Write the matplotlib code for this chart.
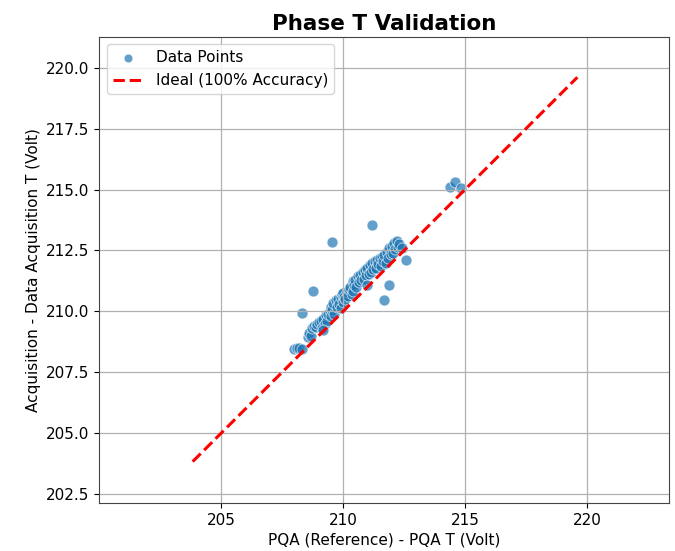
import numpy as np
import matplotlib
matplotlib.use('Agg')
import matplotlib.pyplot as plt

# PQA reference readings (x) vs data acquisition readings (y), phase T, Volt
pqa_t = [
    208.0, 208.1, 208.2, 208.3, 208.55, 208.6, 208.7, 208.75, 208.8, 208.9,
    208.95, 209.0, 209.1, 209.15, 209.2, 209.25, 209.3, 209.35, 209.4, 209.45,
    209.5, 209.5, 209.55, 209.6, 209.65, 209.7, 209.75, 209.8, 209.85, 209.9,
    209.9, 209.95, 210.0, 210.0, 210.05, 210.1, 210.15, 210.2, 210.25, 210.3,
    210.35, 210.4, 210.4, 210.45, 210.5, 210.55, 210.6, 210.65, 210.7, 210.75,
    210.8, 210.85, 210.9, 210.95, 211.0, 211.0, 211.05, 211.1, 211.15, 211.2,
    211.25, 211.3, 211.35, 211.4, 211.45, 211.5, 211.55, 211.6, 211.65, 211.7,
    211.75, 211.8, 211.85, 211.9, 211.95, 212.0, 212.05, 212.1, 212.15, 212.2,
    212.25, 212.3, 212.4,
    209.53, 211.19, 208.76, 208.33, 212.57, 211.88, 211.68, 214.4, 214.6, 214.85, 209.2,
]
acq_t = [
    208.45, 208.5, 208.5, 208.45, 208.95, 209.1, 209.0, 209.3, 209.4, 209.35,
    209.5, 209.55, 209.6, 209.3, 209.7, 209.5, 209.85, 209.6, 209.9, 210.0,
    209.8, 210.2, 210.05, 210.35, 209.9, 210.45, 210.2, 210.5, 210.3, 210.6,
    210.15, 210.7, 210.4, 210.75, 210.6, 210.5, 210.8, 210.65, 210.9, 211.0,
    210.7, 211.25, 210.85, 211.1, 211.3, 211.0, 211.45, 211.2, 211.5, 211.3,
    211.6, 211.35, 211.7, 211.5, 211.8, 211.1, 211.55, 211.9, 211.6, 212.0,
    211.75, 212.05, 211.8, 212.1, 211.95, 212.2, 211.85, 212.25, 212.05, 212.3,
    212.0, 212.45, 212.2, 212.6, 212.35, 212.7, 212.4, 212.8, 212.55, 212.9,
    212.65, 212.75, 212.6,
    212.86, 213.54, 210.82, 209.93, 212.1, 211.07, 210.45, 215.1, 215.3, 215.05, 209.25,
]

fig = plt.figure(figsize=(6.75, 5.51), dpi=100)
ax = fig.add_axes([0.147, 0.0866, 0.8437, 0.8468])

ax.scatter(pqa_t, acq_t, s=62, color='#1f77b4', alpha=0.7,
           edgecolor='white', linewidth=0.6, label='Data Points')

lo = min(min(pqa_t), min(acq_t)) * 0.98
hi = max(max(pqa_t), max(acq_t)) * 1.02
ax.plot([lo, hi], [lo, hi], 'r--', linewidth=2.2, label='Ideal (100% Accuracy)')

ax.set_xlim(200.01, 223.35)
ax.set_ylim(202.13, 221.27)
ax.set_xticks([205, 210, 215, 220])
ax.set_yticks(np.arange(202.5, 220.01, 2.5))
ax.yaxis.set_major_formatter(matplotlib.ticker.FormatStrFormatter('%.1f'))
ax.tick_params(labelsize=11)
ax.grid(True, color='#b0b0b0', linewidth=0.9)

ax.set_title('Phase T Validation', fontsize=15.5, fontweight='bold', pad=5)
ax.set_xlabel('PQA (Reference) - PQA T (Volt)', fontsize=11, labelpad=3)
ax.set_ylabel('Acquisition - Data Acquisition T (Volt)', fontsize=11)
ax.legend(loc='upper left', fontsize=11, markerscale=0.8)

for s in ax.spines.values():
    s.set_color('#444444')

fig.savefig('out.png', dpi=100)
